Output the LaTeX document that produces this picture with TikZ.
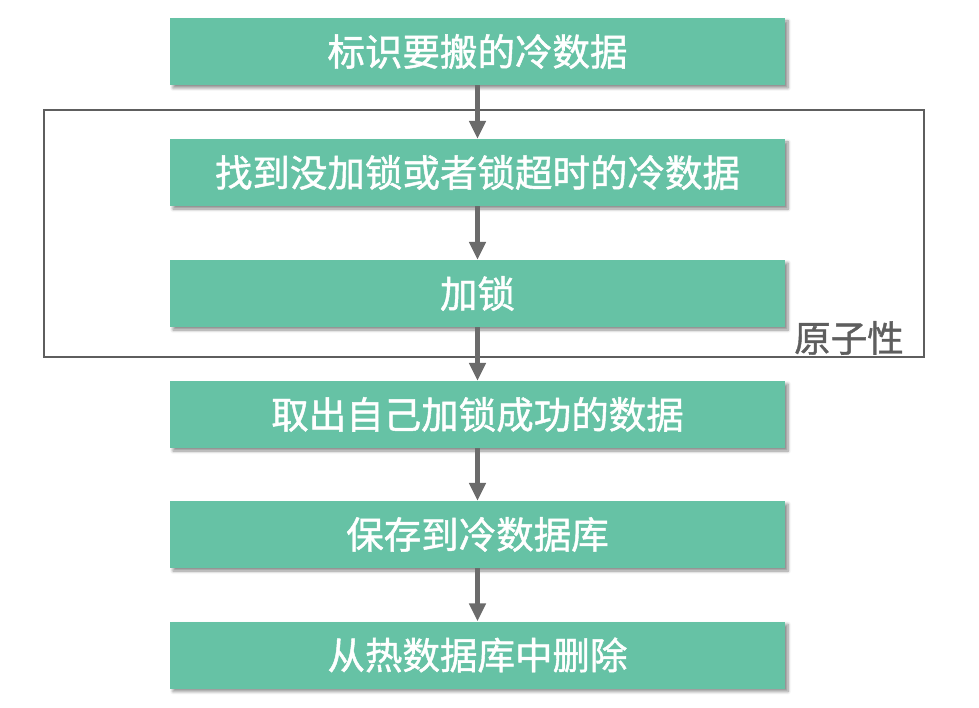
\documentclass[tikz,border=0pt]{standalone}
\usepackage{fontspec}
\newfontfamily\cjk[FakeBold=1.2]{Noto Sans CJK SC}
\usetikzlibrary{arrows.meta,shadows.blur}
\definecolor{mint}{HTML}{66C2A5}
\definecolor{arrowgray}{HTML}{6B6B6B}
\definecolor{framegray}{HTML}{5E5E5E}
\begin{document}
\begin{tikzpicture}[x=1pt,y=-1pt,
  stepbox/.style={fill=mint, minimum width=615pt, minimum height=67pt, inner sep=0pt,
    text=white, font=\cjk\fontsize{37.5}{42}\selectfont,
    blur shadow={shadow xshift=3pt, shadow yshift=-3pt, shadow blur steps=6, shadow blur radius=3pt, shadow opacity=45}},
  flow/.style={draw=arrowgray, line width=5pt, -{Triangle[width=16pt,length=18pt]}, arrowgray, shorten <=0pt},
  framebox/.style={draw=framegray, line width=2pt}]
\useasboundingbox (0,0) rectangle (979,708);
\node[framebox, minimum width=880pt, minimum height=247pt, inner sep=0pt] (frame) at (484,233.5) {};
\node[stepbox] (b1) at (477.5,51.5) {标识要搬的冷数据};
\node[stepbox] (b2) at (477.5,172.5) {找到没加锁或者锁超时的冷数据};
\node[stepbox] (b3) at (477.5,293.5) {加锁};
\node[stepbox] (b4) at (477.5,414.5) {取出自己加锁成功的数据};
\node[stepbox] (b5) at (477.5,534.5) {保存到冷数据库};
\node[stepbox] (b6) at (477.5,655) {从热数据库中删除};
\node[text=framegray, font=\cjk\fontsize{36.5}{40}\selectfont, inner sep=0pt] (lab) at (849,338) {原子性};
\draw[flow] (b1.south) -- (b2.north);
\draw[flow] (b2.south) -- (b3.north);
\draw[flow] (b3.south) -- (b4.north);
\draw[flow] (b4.south) -- (b5.north);
\draw[flow] (b5.south) -- (b6.north);
\end{tikzpicture}
\end{document}
